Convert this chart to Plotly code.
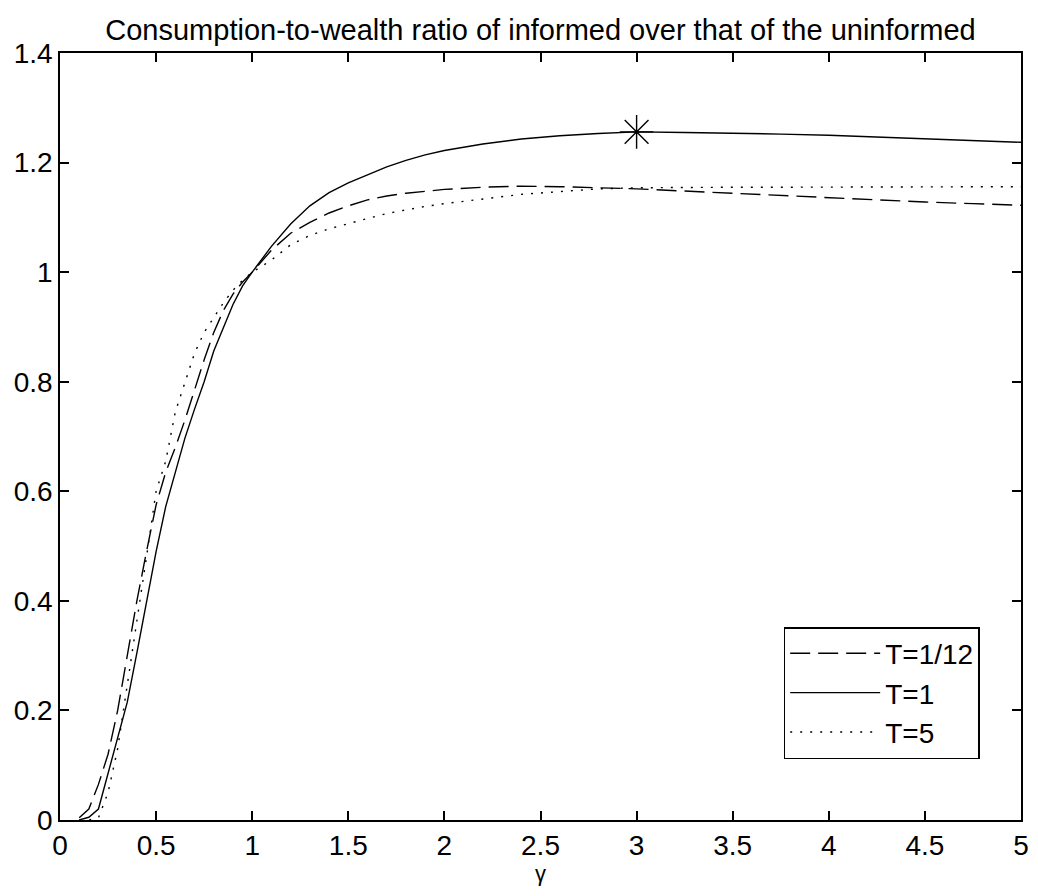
import plotly.graph_objects as go

# Relative risk aversion grid
gamma = [0.1, 0.15, 0.2, 0.25, 0.3, 0.35, 0.4, 0.45, 0.5, 0.55, 0.6, 0.65, 0.7,
         0.75, 0.8, 0.85, 0.9, 0.95, 1.0, 1.1, 1.2, 1.3, 1.4, 1.5, 1.6, 1.7,
         1.8, 1.9, 2.0, 2.2, 2.4, 2.6, 2.8, 3.0, 3.25, 3.5, 3.75, 4.0, 4.25,
         4.5, 4.75, 5.0]

# Consumption-to-wealth ratio, informed / uninformed, per horizon T
ratio_t_1_12 = [0.004, 0.02, 0.065, 0.12, 0.2, 0.3, 0.4, 0.49, 0.575, 0.635,
                0.68, 0.73, 0.786, 0.84, 0.89, 0.93, 0.96, 0.982, 1.0, 1.04,
                1.071, 1.091, 1.108, 1.121, 1.132, 1.139, 1.144, 1.148, 1.151,
                1.155, 1.157, 1.156, 1.154, 1.152, 1.148, 1.144, 1.139, 1.135,
                1.131, 1.128, 1.125, 1.122]
ratio_t_1 = [0.0, 0.005, 0.02, 0.085, 0.15, 0.215, 0.305, 0.4, 0.49, 0.572,
             0.637, 0.697, 0.75, 0.8, 0.856, 0.9, 0.941, 0.975, 1.0, 1.047,
             1.088, 1.121, 1.145, 1.163, 1.178, 1.192, 1.204, 1.214, 1.222,
             1.234, 1.243, 1.249, 1.253, 1.256, 1.255, 1.254, 1.252, 1.25,
             1.247, 1.243, 1.24, 1.237]
ratio_t_5 = [0.0, 0.0, 0.004, 0.05, 0.13, 0.245, 0.36, 0.48, 0.6, 0.655,
             0.745, 0.8, 0.852, 0.89, 0.918, 0.944, 0.967, 0.985, 1.0, 1.022,
             1.05, 1.067, 1.079, 1.089, 1.098, 1.107, 1.114, 1.12, 1.125,
             1.134, 1.142, 1.147, 1.152, 1.154, 1.155, 1.155, 1.155, 1.155,
             1.155, 1.156, 1.156, 1.156]

series_names = ["T=1/12", "T=1", "T=5"]

x_tick_vals = [0, 0.5, 1, 1.5, 2, 2.5, 3, 3.5, 4, 4.5, 5]
x_tick_text = ["0", "0.5", "1", "1.5", "2", "2.5", "3", "3.5", "4", "4.5", "5"]
y_tick_vals = [0, 0.2, 0.4, 0.6, 0.8, 1.0, 1.2, 1.4]
y_tick_text = ["0", "0.2", "0.4", "0.6", "0.8", "1", "1.2", "1.4"]

FONT = "Liberation Sans, Arial, Helvetica, sans-serif"

fig = go.Figure()

fig.add_trace(go.Scatter(
    x=gamma, y=ratio_t_1_12, mode="lines", name=series_names[0],
    line=dict(color="black", width=1.4, dash="20px,8px"),
))
fig.add_trace(go.Scatter(
    x=gamma, y=ratio_t_1, mode="lines", name=series_names[1],
    line=dict(color="black", width=1.4),
))
fig.add_trace(go.Scatter(
    x=gamma, y=ratio_t_5, mode="lines", name=series_names[2],
    line=dict(color="black", width=1.4, dash="2px,8px"),
))

# Mark the maximum of the T=1 curve
peak_idx = max(range(len(ratio_t_1)), key=lambda i: ratio_t_1[i])
fig.add_trace(go.Scatter(
    x=[gamma[peak_idx]], y=[ratio_t_1[peak_idx]], mode="markers",
    showlegend=False,
    marker=dict(symbol="asterisk-open", size=28, color="black",
                line=dict(color="black", width=1.4)),
))

axis_common = dict(
    showgrid=False, zeroline=False,
    showline=True, linecolor="black", linewidth=1.5, mirror="ticks",
    ticks="inside", ticklen=9, tickwidth=1.5, tickcolor="black",
    tickfont=dict(family=FONT, size=28, color="black"),
)

fig.update_layout(
    width=1038, height=896,
    margin=dict(l=60, r=9, t=53, b=76),
    paper_bgcolor="white", plot_bgcolor="white",
    title=dict(
        text="Consumption-to-wealth ratio of informed over that of the uninformed",
        x=0.5, xanchor="center", xref="paper",
        y=1 - 30 / 896, yanchor="middle", yref="container",
        font=dict(family=FONT, size=29, color="black"),
    ),
    xaxis=dict(range=[0, 5], tickvals=x_tick_vals, ticktext=x_tick_text,
               title=dict(text="γ", standoff=0,
                          font=dict(family=FONT, size=22, color="black")),
               **axis_common),
    yaxis=dict(range=[0, 1.4], tickvals=y_tick_vals, ticktext=y_tick_text,
               **axis_common),
    legend=dict(
        x=0.957, xanchor="right", y=0.2516, yanchor="top",
        bgcolor="white", bordercolor="black", borderwidth=1.5,
        font=dict(family=FONT, size=28, color="black"),
        tracegroupgap=0, itemwidth=90,
    ),
    showlegend=True,
)

fig.write_html("out.html")
